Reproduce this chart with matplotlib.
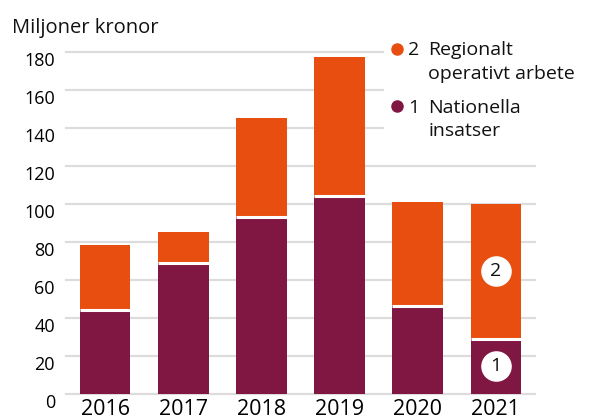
"""Stacked bars: Miljoner kronor per year, national vs regional."""

import matplotlib

matplotlib.use("Agg")
import matplotlib.pyplot as plt

YEARS = ["2016", "2017", "2018", "2019", "2020", "2021"]
NATIONELLA = [44, 69, 93, 104, 46, 29]
REGIONALT = [34.5, 16, 52, 73.5, 55, 71]

ORANGE = "#e84e10"
MAROON = "#801742"
GRID = "#dcdcdc"
W, H = 589, 418


def fx(px):
    return px / W


def fy(py):
    return 1 - py / H


def main() -> None:
    plt.rcParams["font.family"] = ["Open Sans", "DejaVu Sans"]
    fig = plt.figure(figsize=(W / 100, H / 100), dpi=100)
    ax = fig.add_axes([fx(66), fy(393.7), (535 - 66) / W, (393.7 - 52) / H])

    x = list(range(len(YEARS)))
    width = 0.65
    ax.bar(x, NATIONELLA, width=width, color=MAROON, zorder=2)
    ax.bar(x, REGIONALT, width=width, bottom=NATIONELLA, color=ORANGE, zorder=2)
    # white separator between the two segments
    ax.hlines(NATIONELLA, [i - width / 2 for i in x], [i + width / 2 for i in x],
              colors="white", linewidth=2.2, zorder=3)

    ax.set_xlim(-0.5, 5.5)
    ax.set_ylim(0, 180)
    yticks = list(range(0, 181, 20))
    for t in yticks:
        xmax = 0.676 if t >= 140 else 1.0
        ax.axhline(t, xmin=0, xmax=xmax, color=GRID, linewidth=1.6, zorder=1, clip_on=False)

    ax.set_yticks(yticks)
    ax.set_yticklabels([str(t) for t in yticks], fontsize=13, va="top")
    ax.set_xticks(x)
    ax.set_xticklabels(YEARS, fontsize=15.5)
    ax.tick_params(axis="y", length=0, pad=8)
    ax.tick_params(axis="x", length=0, pad=4)
    for s in ax.spines.values():
        s.set_visible(False)

    # numbered badges in the last bar
    last = len(YEARS) - 1
    for num, yv in (("1", NATIONELLA[last] / 2),
                    ("2", NATIONELLA[last] + REGIONALT[last] / 2)):
        ax.plot(last, yv, marker="o", markersize=21, color="white", zorder=4)
        ax.text(last, yv, num, ha="center", va="center", fontsize=14, color="#111111", zorder=5)

    fig.text(fx(12), fy(32.7), "Miljoner kronor", fontsize=14.5, color="#111111", va="baseline")

    # legend
    for color, num, lines, ys in (
        (ORANGE, "2", ["Regionalt", "operativt arbete"], [55, 79.3]),
        (MAROON, "1", ["Nationella", "insatser"], [112.7, 136]),
    ):
        fig.lines.append(plt.Line2D([fx(397.3)], [fy(ys[0] - 6.5)], marker="o", markersize=8,
                                    color=color, transform=fig.transFigure, linestyle="none"))
        fig.text(fx(408), fy(ys[0]), num, fontsize=14, color="#111111", va="baseline")
        for line, yb in zip(lines, ys):
            fig.text(fx(428), fy(yb), line, fontsize=14, color="#111111", va="baseline")

    fig.savefig("out.png", dpi=100)


if __name__ == "__main__":
    main()
